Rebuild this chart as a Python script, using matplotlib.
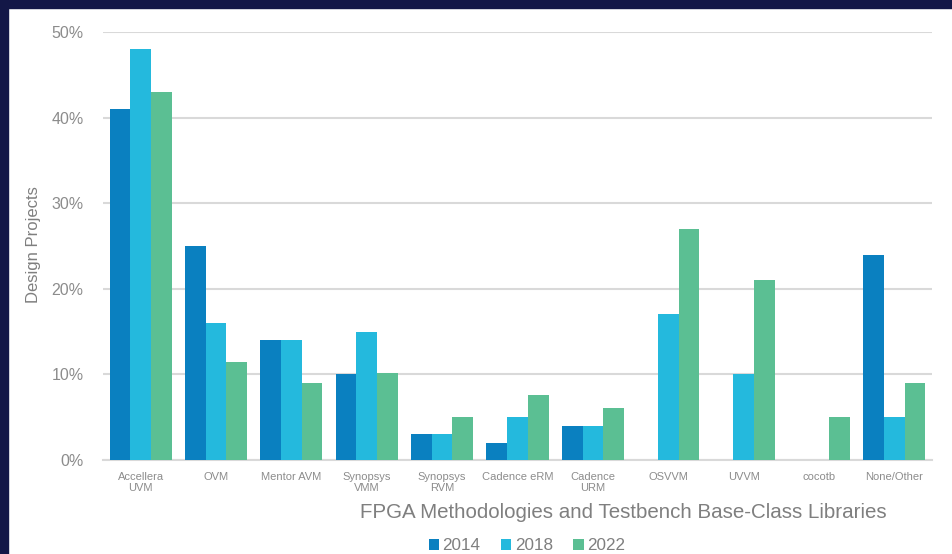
import matplotlib
matplotlib.use("Agg")
import matplotlib.pyplot as plt
import numpy as np
from matplotlib.patches import Rectangle

plt.rcParams['font.family'] = ['Liberation Sans', 'DejaVu Sans']

categories = ["Accellera\nUVM", "OVM", "Mentor AVM", "Synopsys\nVMM", "Synopsys\nRVM",
              "Cadence eRM", "Cadence\nURM", "OSVVM", "UVVM", "cocotb", "None/Other"]
years = ["2014", "2018", "2022"]
v2014 = [41, 25, 14, 10, 3, 2, 4, 0, 0, 0, 24]
v2018 = [48, 16, 14, 15, 3, 5, 4, 17, 10, 0, 5]
v2022 = [43, 11.4, 9, 10.2, 5, 7.6, 6.1, 27, 21, 5, 9]
yticks = [0, 10, 20, 30, 40, 50]
colors = ["#0a80c0", "#24b9dd", "#5bbf93"]

fig = plt.figure(figsize=(9.53, 5.54), dpi=100)
fig.patch.set_facecolor("white")
# navy frame (top and left)
fig.patches.append(Rectangle((0, 1 - 8/554), 1, 8/554, transform=fig.transFigure,
                             color="#131747", zorder=0))
fig.patches.append(Rectangle((0, 0), 8/953, 1, transform=fig.transFigure,
                             color="#131747", zorder=0))

ax = fig.add_axes([103/953, 1 - 460/554, (932 - 103)/953, (460 - 32)/554])
x = np.arange(len(categories))
bw = 0.275
for i, (vals, c, lab) in enumerate(zip([v2014, v2018, v2022], colors, years)):
    ax.bar(x + (i - 1) * bw, vals, width=bw, color=c, label=lab, zorder=3)

ax.set_xlim(-0.5, len(categories) - 0.5)
ax.set_ylim(0, 50)
ax.set_yticks(yticks)
ax.set_yticklabels([f"{t}%" for t in yticks], fontsize=11.5, color="#8c8c8c")
ax.yaxis.grid(True, color="#d9d9d9", linewidth=1.5, zorder=0)
ax.set_axisbelow(True)
for s in ["top", "right", "left"]:
    ax.spines[s].set_visible(False)
ax.spines["bottom"].set_color("#d9d9d9")
ax.spines["bottom"].set_linewidth(1.5)
ax.tick_params(axis="both", length=0)
ax.tick_params(axis="y", pad=14)
ax.set_xticks(x)
ax.set_xticklabels(categories, fontsize=8, color="#8c8c8c", linespacing=1.1)
ax.tick_params(axis="x", pad=9)

fig.text(34/953, 1 - 245/554, "Design Projects", rotation=90, ha="center", va="center",
         fontsize=12, color="#7f7f7f")
fig.text(623/953, 1 - 513/554, "FPGA Methodologies and Testbench Base-Class Libraries",
         ha="center", va="center", fontsize=14.8, color="#7f7f7f")

leg = fig.legend(loc="center", bbox_to_anchor=(527/953, 1 - 546/554), ncol=3,
                 frameon=False, fontsize=12.3, handlelength=0.6, handleheight=0.6,
                 handletextpad=0.2, columnspacing=1.2, labelcolor="#7f7f7f")

fig.savefig("out.png", dpi=100)
